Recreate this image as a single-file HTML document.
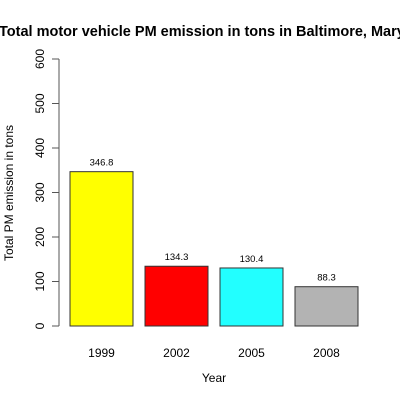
<!DOCTYPE html>
<html><head><style>body{margin:0;background:#fff}svg{display:block;font-family:"Liberation Sans",Arial,sans-serif}</style></head>
<body>
<svg id="c" width="400" height="400">
<text x="-1" y="36" text-anchor="start" font-size="14.5" font-weight="bold">Total motor vehicle PM emission in tons in Baltimore, Maryland</text>
<text x="214" y="382" text-anchor="middle" font-size="12">Year</text>
<text transform="translate(13,193) rotate(-90)" text-anchor="middle" font-size="12">Total PM emission in tons</text>
</svg>
<script>
const categories=["1999","2002","2005","2008"];
const values=[346.8,134.3,130.4,88.3];
const colors=["#ffff00","#ff0000","#22ffff","#b3b3b3"];
const ticks=[0,100,200,300,400,500,600];
const svg=document.getElementById('c');const NS="http://www.w3.org/2000/svg";
const y=v=>326-v*(267/600);
const x=i=>70+i*75;
function mk(t,a){const e=document.createElementNS(NS,t);for(const k in a)e.setAttribute(k,a[k]);svg.appendChild(e);return e;}
const ax=mk('line',{x1:59,x2:59,y1:y(0),y2:y(600),stroke:'#555'});


ticks.forEach(t=>{
 const l=mk('line',{x1:52,x2:59,y1:y(t),y2:y(t),stroke:'#555'});
 
 
 const tx=mk('text',{transform:`translate(44,${y(t)}) rotate(-90)`,'text-anchor':'middle','font-size':12});
 tx.textContent=t;
 
 
});
values.forEach((v,i)=>{
 const r=mk('rect',{x:x(i),y:y(v),width:63,height:y(0)-y(v),fill:colors[i],stroke:'#333','stroke-width':1});
 
 
 const vl=mk('text',{x:x(i)+31.5,y:y(v)-6,'text-anchor':'middle','font-size':9.5});
 vl.textContent=v.toFixed(1);
 
 
 const cl=mk('text',{x:x(i)+31.5,y:357,'text-anchor':'middle','font-size':12});
 cl.textContent=categories[i];
 
 
});
</script>
</body></html>
